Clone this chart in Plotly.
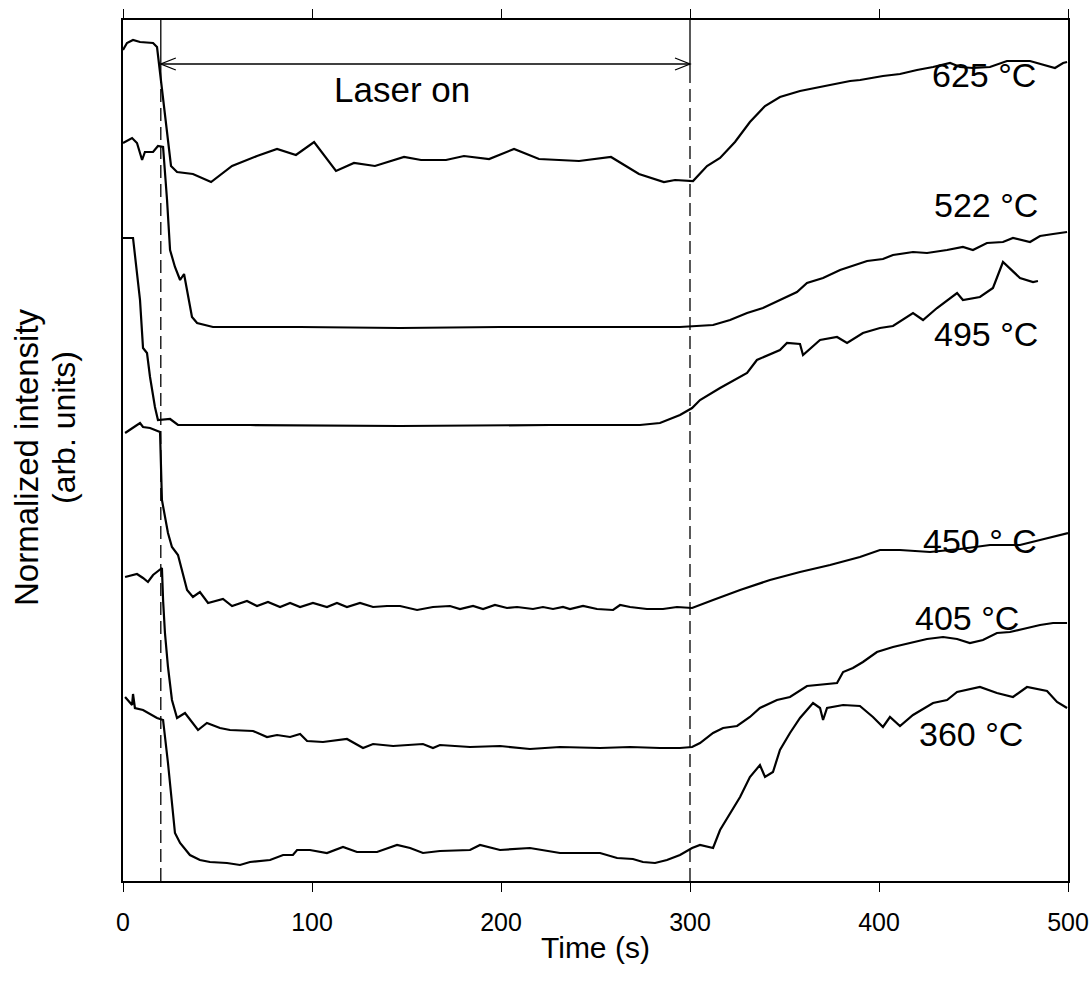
import plotly.graph_objects as go

# ---- data (time in s, intensity in arb. units) ----
t_625 = [0, 2.1, 5.3, 9.0, 15.9, 18.0, 25.4, 28.6, 37.0, 46.6, 57.7, 70.9, 81.5, 91.5, 101.1, 112.7, 122.2,
         133.3, 148.7, 157.7, 170.9, 180.4, 193.7, 206.9, 220.1, 241.3, 258.2, 273.0, 286.2, 292.1, 301.6,
         309.0, 315.9, 323.8, 331.7, 339.7, 347.6, 358.2, 371.4, 384.7, 390.0, 402.1, 411.1, 420.1, 428.6,
         437.6, 442.9, 449.7, 458.7, 467.7, 479.9, 486.8, 493.1, 497.4, 499.5]
i_625 = [8.31, 8.38, 8.41, 8.39, 8.38, 8.34, 7.15, 7.09, 7.07, 6.99, 7.15, 7.25, 7.32, 7.26, 7.39, 7.10, 7.18,
         7.15, 7.24, 7.21, 7.21, 7.25, 7.22, 7.32, 7.22, 7.20, 7.24, 7.07, 6.99, 7.01, 7.00,
         7.15, 7.23, 7.39, 7.59, 7.75, 7.84, 7.90, 7.95, 8.00, 8.01, 8.05, 8.07, 8.11, 8.14,
         8.18, 8.14, 8.13, 8.14, 8.20, 8.20, 8.16, 8.13, 8.18, 8.19]

t_522 = [0, 4.8, 7.4, 10.1, 11.6, 15.9, 18.5, 21.2, 23.3, 24.9, 27.5, 30.2, 32.3, 33.9, 36.5, 39.2, 47.6,
         93.7, 146.6, 199.5, 252.4, 294.7, 312.2, 321.2, 330.2, 338.6, 347.6, 356.6, 361.9, 370.4, 379.4,
         389.9, 393.7, 402.1, 407.4, 418.0, 425.4, 436.0, 444.4, 449.7, 457.1, 465.6, 470.9, 479.9, 485.2,
         492.1, 499.5]
i_522 = [7.38, 7.43, 7.38, 7.21, 7.29, 7.29, 7.35, 7.34, 6.81, 6.31, 6.14, 6.01, 6.07, 5.91, 5.64, 5.58, 5.54,
         5.54, 5.53, 5.54, 5.54, 5.54, 5.56, 5.61, 5.68, 5.73, 5.81, 5.89, 5.98, 6.03, 6.11,
         6.18, 6.20, 6.22, 6.26, 6.29, 6.28, 6.31, 6.34, 6.31, 6.38, 6.39, 6.43, 6.39, 6.45,
         6.47, 6.49]

t_495 = [0, 5.3, 9.0, 10.6, 12.7, 14.3, 16.9, 18.5, 24.9, 29.1, 67.2, 146.6, 225.9, 273.5, 284.1, 294.7,
         301.1, 305.3, 315.9, 330.2, 335.4, 347.6, 351.3, 358.2, 359.8, 368.8, 377.8, 383.1, 391.5, 400.5,
         407.4, 418.0, 423.3, 430.7, 441.3, 444.4, 453.4, 460.3, 465.6, 470.9, 474.6, 481.5, 484.1]
i_495 = [6.43, 6.43, 5.81, 5.33, 5.28, 5.04, 4.74, 4.61, 4.62, 4.56, 4.56, 4.55, 4.56, 4.56, 4.58, 4.66,
         4.73, 4.81, 4.93, 5.08, 5.21, 5.31, 5.38, 5.37, 5.26, 5.41, 5.44, 5.38, 5.48, 5.53,
         5.55, 5.68, 5.61, 5.73, 5.88, 5.81, 5.84, 5.93, 6.19, 6.09, 6.03, 5.99, 6.00]

t_450 = [1.1, 9.0, 10.6, 14.3, 19.6, 20.6, 23.8, 25.9, 29.1, 33.9, 37.0, 40.7, 45.0, 52.9, 57.7, 65.6, 70.9,
         76.7, 83.1, 88.4, 93.7, 100.5, 107.9, 113.2, 118.5, 125.4, 132.3, 139.7, 146.6, 155.6, 164.0,
         173.0, 178.3, 185.2, 190.5, 196.8, 203.2, 208.5, 216.9, 222.2, 227.5, 232.8, 236.5, 243.4, 250.8,
         259.3, 263.0, 268.3, 277.2, 285.7, 293.1, 301.1, 312.2, 326.5, 342.3, 358.2, 374.1, 389.9, 400.5,
         411.1, 427.0, 442.9, 458.7, 474.6, 485.2, 500.0]
i_450 = [4.48, 4.58, 4.54, 4.53, 4.49, 3.81, 3.48, 3.34, 3.26, 2.91, 2.84, 2.89, 2.78, 2.82, 2.75, 2.80, 2.75,
         2.79, 2.74, 2.78, 2.74, 2.78, 2.74, 2.78, 2.74, 2.78, 2.74, 2.75, 2.75, 2.71, 2.74,
         2.75, 2.72, 2.75, 2.72, 2.76, 2.73, 2.74, 2.72, 2.74, 2.72, 2.74, 2.72, 2.75, 2.72,
         2.71, 2.76, 2.74, 2.72, 2.72, 2.74, 2.73, 2.81, 2.91, 3.01, 3.09, 3.16, 3.24, 3.31,
         3.31, 3.29, 3.32, 3.36, 3.36, 3.41, 3.48]

t_405 = [1.1, 7.4, 10.6, 13.2, 15.9, 20.6, 21.2, 22.2, 23.8, 25.9, 28.6, 32.8, 39.7, 44.4, 51.3, 56.6, 68.8,
         76.2, 81.5, 88.4, 93.7, 97.4, 105.8, 118.5, 127.0, 132.3, 142.9, 158.7, 164.0, 167.7, 183.6,
         199.5, 215.3, 231.2, 252.4, 268.3, 284.1, 294.7, 301.1, 305.3, 312.2, 317.5, 324.9, 331.7, 337.0,
         346.0, 352.9, 358.2, 361.9, 377.8, 381.0, 386.2, 391.5, 398.9, 407.4, 416.4, 425.4, 433.9, 441.3,
         448.1, 455.0, 462.4, 469.3, 476.2, 485.2, 492.1, 499.5]
i_405 = [3.04, 3.07, 3.03, 2.99, 3.06, 3.13, 2.81, 2.48, 2.14, 1.81, 1.63, 1.68, 1.51, 1.58, 1.53, 1.51, 1.50,
         1.44, 1.46, 1.44, 1.47, 1.40, 1.39, 1.42, 1.33, 1.37, 1.35, 1.37, 1.33, 1.36, 1.34,
         1.35, 1.32, 1.34, 1.33, 1.34, 1.33, 1.33, 1.34, 1.38, 1.48, 1.53, 1.55, 1.64, 1.73,
         1.81, 1.84, 1.91, 1.95, 1.98, 2.09, 2.13, 2.19, 2.29, 2.34, 2.38, 2.42, 2.44, 2.42,
         2.38, 2.41, 2.48, 2.49, 2.52, 2.56, 2.58, 2.58]

t_360 = [1.1, 4.8, 5.3, 6.3, 10.6, 18.0, 21.2, 23.8, 27.5, 30.2, 35.4, 40.7, 46.0, 55.0, 61.9, 67.2, 77.8,
         84.7, 89.9, 92.1, 98.9, 107.9, 116.4, 123.8, 134.4, 145.0, 151.9, 158.7, 167.7, 183.6, 188.9,
         199.5, 215.3, 231.2, 252.4, 261.4, 269.8, 275.1, 281.5, 287.8, 294.7, 301.1, 305.3, 312.2, 315.9,
         321.2, 326.5, 331.7, 337.0, 339.7, 343.9, 347.6, 352.9, 358.2, 365.1, 368.8, 370.4, 372.5, 381.0,
         389.9, 396.8, 402.1, 405.8, 411.1, 418.0, 428.6, 436.0, 441.3, 453.4, 462.4, 470.9, 478.3, 488.9,
         494.2, 499.5]
i_360 = [1.84, 1.76, 1.87, 1.73, 1.71, 1.63, 1.61, 1.18, 0.48, 0.38, 0.26, 0.21, 0.19, 0.18, 0.16, 0.19, 0.21,
         0.26, 0.26, 0.31, 0.31, 0.28, 0.34, 0.29, 0.29, 0.36, 0.33, 0.28, 0.30, 0.31, 0.36,
         0.31, 0.33, 0.28, 0.28, 0.23, 0.22, 0.19, 0.18, 0.21, 0.26, 0.33, 0.36, 0.33, 0.51,
         0.68, 0.84, 1.04, 1.16, 1.04, 1.09, 1.31, 1.48, 1.63, 1.78, 1.73, 1.61, 1.73, 1.76,
         1.75, 1.64, 1.54, 1.64, 1.55, 1.66, 1.78, 1.81, 1.89, 1.94, 1.88, 1.84, 1.94, 1.90,
         1.79, 1.73]

series = [
    ("625 °C", t_625, i_625, 455.6, 8.06),
    ("522 °C", t_522, i_522, 456.6, 6.76),
    ("495 °C", t_495, i_495, 456.6, 5.47),
    ("450 ° C", t_450, i_450, 453.4, 3.40),
    ("405 °C", t_405, i_405, 446.6, 2.63),
    ("360 °C", t_360, i_360, 448.7, 1.47),
]

x_ticks = [0, 100, 200, 300, 400, 500]
LASER_ON = 20
LASER_OFF = 300
ARROW_Y = 8.17
Y_MAX = 8.61
X_MAX = 500

FONT = "Liberation Sans, Arial, Helvetica, sans-serif"

fig = go.Figure()
for name, t, v, lx, ly in series:
    fig.add_trace(go.Scatter(x=t, y=v, mode="lines", name=name,
                             line=dict(color="black", width=2.2), showlegend=False))
    fig.add_annotation(x=lx, y=ly, text=name, showarrow=False, xanchor="center", yanchor="middle",
                       font=dict(family=FONT, size=34, color="black"))

# laser on/off markers
for tt in (LASER_ON, LASER_OFF):
    fig.add_shape(type="line", x0=tt, x1=tt, y0=0, y1=8.06, xref="x", yref="y",
                  line=dict(color="black", width=1.3, dash="13px,6px"))
    fig.add_shape(type="line", x0=tt, x1=tt, y0=8.06, y1=Y_MAX, xref="x", yref="y",
                  line=dict(color="black", width=1.3))

# double-headed arrow
fig.add_shape(type="line", x0=LASER_ON, x1=LASER_OFF, y0=ARROW_Y, y1=ARROW_Y,
              line=dict(color="black", width=1.3))
ah_dx = 15 / 1.89   # arrow head length (s)
ah_dy = 6 / 100.0   # arrow head half-height
fig.add_shape(type="path",
              path=f"M {LASER_ON + ah_dx} {ARROW_Y + ah_dy} L {LASER_ON} {ARROW_Y} L {LASER_ON + ah_dx} {ARROW_Y - ah_dy}",
              line=dict(color="black", width=1.3))
fig.add_shape(type="path",
              path=f"M {LASER_OFF - ah_dx} {ARROW_Y + ah_dy} L {LASER_OFF} {ARROW_Y} L {LASER_OFF - ah_dx} {ARROW_Y - ah_dy}",
              line=dict(color="black", width=1.3))
fig.add_annotation(x=147.6, y=7.92, text="Laser on", showarrow=False, xanchor="center", yanchor="middle",
                   font=dict(family=FONT, size=35, color="black"))

# axis titles
fig.add_annotation(xref="paper", yref="paper", x=0.5, y=-0.077, text="Time (s)", showarrow=False,
                   xanchor="center", yanchor="middle", font=dict(family=FONT, size=30, color="black"))
fig.add_annotation(xref="paper", yref="paper", x=(26 - 123) / 945, y=(881 - 457) / 861,
                   text="Normalized intensity", showarrow=False, textangle=-90,
                   xanchor="center", yanchor="middle", font=dict(family=FONT, size=33, color="black"))
fig.add_annotation(xref="paper", yref="paper", x=(64 - 123) / 945, y=(881 - 428) / 861,
                   text="(arb. units)", showarrow=False, textangle=-90,
                   xanchor="center", yanchor="middle", font=dict(family=FONT, size=32, color="black"))

fig.update_layout(
    width=1092, height=991, autosize=False,
    margin=dict(l=123, r=24, t=20, b=110, autoexpand=False),
    plot_bgcolor="white", paper_bgcolor="white",
    font=dict(family=FONT, color="black"),
)
fig.update_xaxes(range=[0, X_MAX], tickvals=x_ticks, ticktext=[str(v) for v in x_ticks],
                 ticks="outside", ticklen=9, tickwidth=1.3, tickcolor="black",
                 showline=True, linecolor="black", linewidth=1.5, mirror="ticks",
                 showgrid=False, zeroline=False, automargin=False, ticklabelstandoff=9,
                 tickfont=dict(family=FONT, size=25, color="black"))
fig.update_yaxes(range=[0, Y_MAX], showticklabels=False, ticks="",
                 showline=True, linecolor="black", linewidth=1.5, mirror=True,
                 showgrid=False, zeroline=False, automargin=False)

fig.write_html("out.html")
